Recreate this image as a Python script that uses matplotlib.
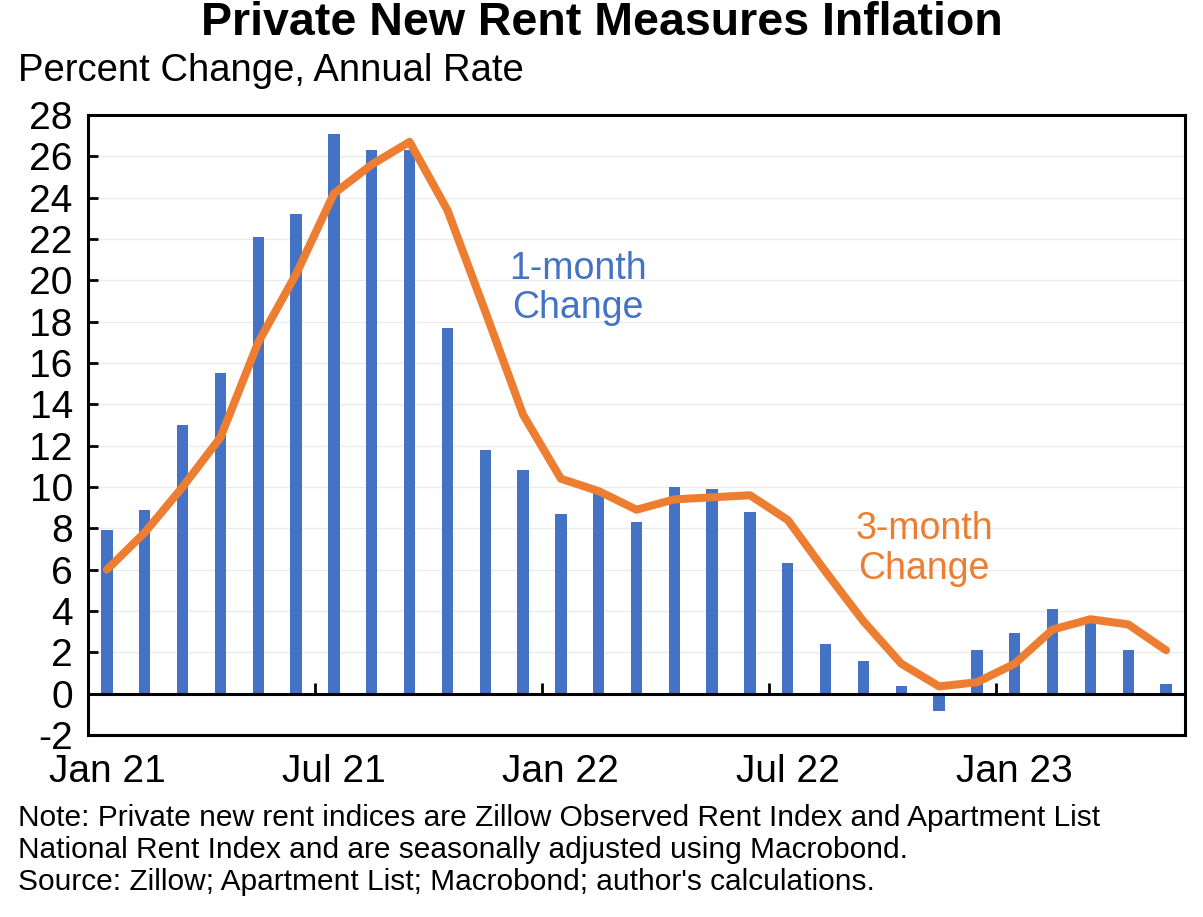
import matplotlib
matplotlib.use("Agg")
import matplotlib.pyplot as plt
import numpy as np

months = ["Jan 21", "Feb 21", "Mar 21", "Apr 21", "May 21", "Jun 21", "Jul 21", "Aug 21", "Sep 21",
          "Oct 21", "Nov 21", "Dec 21", "Jan 22", "Feb 22", "Mar 22", "Apr 22", "May 22", "Jun 22",
          "Jul 22", "Aug 22", "Sep 22", "Oct 22", "Nov 22", "Dec 22", "Jan 23", "Feb 23", "Mar 23",
          "Apr 23", "May 23"]
one_month = [7.9, 8.9, 13.0, 15.5, 22.1, 23.2, 27.1, 26.3, 26.3, 17.7, 11.8, 10.8, 8.7, 9.8, 8.3,
             10.0, 9.9, 8.8, 6.3, 2.4, 1.6, 0.35, -0.85, 2.1, 2.95, 4.1, 3.4, 2.1, 0.45]
three_month = [6.0, 7.8, 10.0, 12.4, 17.0, 20.3, 24.2, 25.6, 26.7, 23.4, 18.5, 13.5, 10.4, 9.8, 8.9,
               9.4, 9.5, 9.6, 8.4, 5.9, 3.5, 1.45, 0.35, 0.55, 1.45, 3.1, 3.6, 3.35, 2.1]
tick_labels = ["Jan 21", "Jul 21", "Jan 22", "Jul 22", "Jan 23"]
y_ticks = list(range(-2, 29, 2))

FONT = "Liberation Sans"
plt.rcParams["font.family"] = [FONT, "DejaVu Sans"]

fig = plt.figure(figsize=(12.03, 9.17), dpi=100)
ax = fig.add_axes([0.0732, 0.1985, 0.9118, 0.6761])

x = np.arange(len(months))
BLUE = "#4472C4"
ORANGE = "#ED7D31"

ax.set_axisbelow(True)
ax.grid(axis="y", color="#EBEBEB", linewidth=1.0)
ax.bar(x, one_month, width=0.3, color=BLUE, zorder=2)
ax.axhline(0, color="black", linewidth=2.2, zorder=3)
ax.plot(x, three_month, color=ORANGE, linewidth=5.8, solid_joinstyle="round",
        solid_capstyle="round", zorder=4)

ax.set_xlim(-0.5, len(months) - 0.5)
ax.set_ylim(-2, 28)
ax.set_yticks(y_ticks)
ax.set_yticklabels([str(v) for v in y_ticks])
ax.tick_params(axis="y", direction="in", length=7, width=2, labelsize=28, pad=11)

pos = [months.index(m) for m in tick_labels]
ax.set_xticks(pos)
ax.set_xticklabels(tick_labels)
ax.tick_params(axis="x", length=0, labelsize=28, pad=14)

# category-boundary tick marks on the zero line
sec = ax.secondary_xaxis(2 / 30)
sec.set_xticks([p - 0.5 for p in pos[1:]])
sec.tick_params(axis="x", direction="in", length=8, width=2, labelbottom=False)
sec.spines["bottom"].set_visible(False)

for s in ax.spines.values():
    s.set_linewidth(2.2)
    s.set_color("black")

ax.text(12.45, 19.6, "1-month\nChange", color=BLUE, fontsize=27, ha="center", va="center",
        linespacing=1.12)
ax.text(21.6, 7.0, "3-month\nChange", color=ORANGE, fontsize=27, ha="center", va="center",
        linespacing=1.15)

fig.text(0.5, 0.975, "Private New Rent Measures Inflation", ha="center", va="center",
         fontsize=33.5, fontweight="bold")
fig.text(0.015, 0.923, "Percent Change, Annual Rate", ha="left", va="center", fontsize=27.5)

notes = ["Note: Private new rent indices are Zillow Observed Rent Index and Apartment List",
         "National Rent Index and are seasonally adjusted using Macrobond.",
         "Source: Zillow; Apartment List; Macrobond; author's calculations."]
for i, line in enumerate(notes):
    fig.text(0.015, 0.108 - i * 0.0349, line, ha="left", va="center", fontsize=21.5)

fig.savefig("out.png", dpi=100)
